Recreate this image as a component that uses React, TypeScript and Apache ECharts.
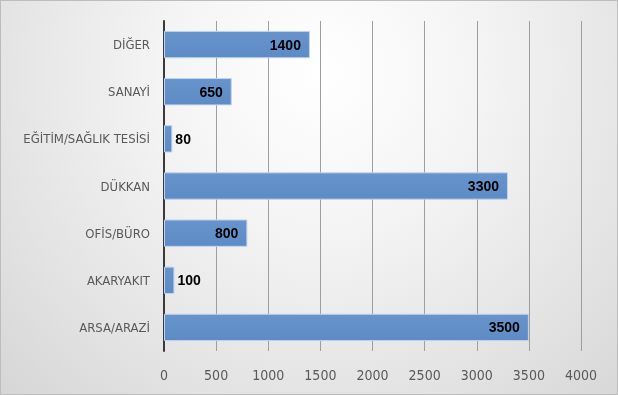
import React, { useEffect, useRef } from "react";
import * as echarts from "echarts";

const categories = ["ARSA/ARAZİ", "AKARYAKIT", "OFİS/BÜRO", "DÜKKAN", "EĞİTİM/SAĞLIK TESİSİ", "SANAYİ", "DİĞER"];
const values = [3500, 100, 800, 3300, 80, 650, 1400];
const xTicks = [0, 500, 1000, 1500, 2000, 2500, 3000, 3500, 4000];

export default function App() {
  const ref = useRef<HTMLDivElement>(null);
  useEffect(() => {
    if (!ref.current) return;
    const chart = echarts.init(ref.current, undefined, { renderer: "svg" });
    const font = "'DejaVu Sans Condensed', 'Liberation Sans', sans-serif";
    const boldFont = "'Liberation Sans', 'Noto Sans', sans-serif";
    chart.setOption({
      animation: false,
      grid: { left: 163, right: 36, top: 20, bottom: 43 },
      xAxis: {
        type: "value",
        min: xTicks[0],
        max: xTicks[xTicks.length - 1],
        interval: 500,
        axisLine: { show: false },
        axisTick: { show: false },
        splitLine: { show: true, lineStyle: { color: "#9e9e9e", width: 1 } },
        axisLabel: { color: "#595959", fontSize: 14, fontFamily: font, margin: 17, formatter: (v: number) => String(v) },
      },
      yAxis: {
        type: "category",
        data: categories,
        axisLine: { show: true, lineStyle: { color: "#3a3a3a", width: 2 } },
        axisTick: { show: false },
        axisLabel: { color: "#595959", fontSize: 13, fontFamily: font, margin: 14 },
      },
      series: [
        {
          type: "bar",
          barCategoryGap: "42%",
          data: values.map((v) => ({
            value: v,
            label: v < 300 ? { position: "right", distance: 3 } : { position: "insideRight", distance: 9 },
          })),
          itemStyle: {
            color: new echarts.graphic.LinearGradient(0, 0, 0, 1, [
              { offset: 0, color: "#6894cc" },
              { offset: 1, color: "#5d8bc5" },
            ]),
            borderColor: "#c0d4ec",
            borderWidth: 1,
          },
          label: {
            show: true,
            color: "#000000",
            fontWeight: "bold",
            fontSize: 14,
            fontFamily: boldFont,
          },
        },
      ],
    });
    return () => chart.dispose();
  }, []);
  return (
    <div
      ref={ref}
      style={{
        position: "fixed",
        left: 0,
        top: 0,
        width: 618,
        height: 395,
        boxSizing: "border-box",
        border: "1px solid #bdbdbd",
        background: "radial-gradient(ellipse at 52% 18%, #ffffff 0%, #f4f4f4 35%, #e2e2e2 75%, #d6d6d6 100%)",
      }}
    />
  );
}
